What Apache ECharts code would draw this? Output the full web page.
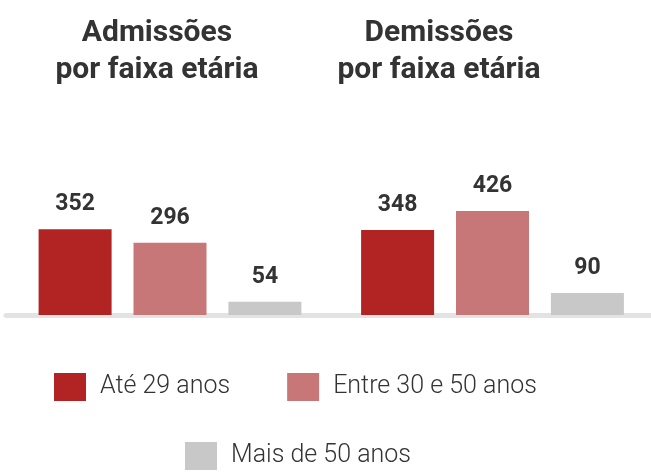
<!DOCTYPE html>
<html>
<head>
<meta charset="utf-8">
<script src="https://cdn.jsdelivr.net/npm/echarts@6/dist/echarts.min.js"></script>
<style>
  html, body { margin: 0; padding: 0; background: #fff; }
  #chart { width: 651px; height: 472px; }
</style>
</head>
<body>
<div id="chart"></div>
<script>
// age groups (legend) and the two panels
const faixas = ["Até 29 anos", "Entre 30 e 50 anos", "Mais de 50 anos"];
const titulos = ["Admissões\npor faixa etária", "Demissões\npor faixa etária"];
const admissoes = [352, 296, 54];
const demissoes = [348, 426, 90];
const cores = ["#b22424", "#c77777", "#c8c8c8"];

const fonte = "Roboto, 'Noto Sans', sans-serif";
const chart = echarts.init(document.getElementById("chart"));

const grids = [
  { left: 6, width: 328, top: 115, height: 200 },
  { left: 334, width: 317, top: 115, height: 200 }
];

const eixoX = grids.map((g, i) => ({
  type: "category",
  gridIndex: i,
  data: [""],
  offset: 2.5,
  axisLine: { lineStyle: { color: "#e3e3e3", width: 5 } },
  axisTick: { show: false },
  axisLabel: { show: false }
}));

const eixoY = grids.map((g, i) => ({
  type: "value",
  gridIndex: i,
  min: 0,
  max: 820,
  show: false,
  splitLine: { show: false }
}));

const series = [];
[admissoes, demissoes].forEach((valores, g) => {
  faixas.forEach((nome, k) => {
    series.push({
      type: "bar",
      name: nome,
      xAxisIndex: g,
      yAxisIndex: g,
      data: [valores[k]],
      barWidth: 73,
      barGap: "30%",
      itemStyle: { color: cores[k] },
      label: {
        show: true,
        position: "top",
        distance: 13,
        fontFamily: fonte,
        fontWeight: "bold",
        fontSize: 23,
        lineHeight: 24,
        color: "#333"
      }
    });
  });
});

const legenda = (dados, left, top) => ({
  data: dados,
  left: left,
  top: top,
  padding: 0,
  orient: "horizontal",
  icon: "rect",
  itemWidth: 32,
  itemHeight: 28,
  itemGap: 57,
  selectedMode: false,
  textStyle: {
    fontFamily: fonte,
    fontSize: 25,
    fontWeight: 300,
    color: "#333",
    padding: [0, 0, 0, 9]
  }
});

chart.setOption({
  animation: false,
  title: [
    { text: titulos[0], left: 152, top: 10, textAlign: "center" },
    { text: titulos[1], left: 434, top: 10, textAlign: "center" }
  ].map(t => Object.assign(t, {
    textStyle: {
      fontFamily: fonte,
      fontWeight: "bold",
      fontSize: 30,
      lineHeight: 37,
      color: "#333"
    }
  })),
  legend: [
    legenda(faixas.slice(0, 2), 54, 373),
    legenda(faixas.slice(2), 185, 442)
  ],
  grid: grids,
  xAxis: eixoX,
  yAxis: eixoY,
  series: series
});
</script>
</body>
</html>
